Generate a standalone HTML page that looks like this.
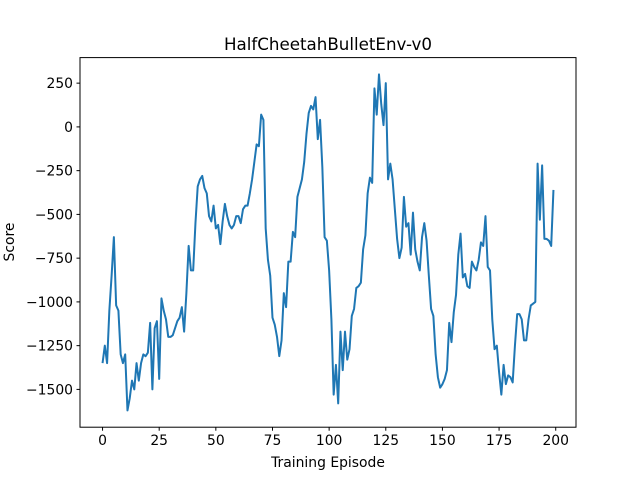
<!DOCTYPE html>
<html><head><meta charset="utf-8"><style>
html,body{margin:0;padding:0;background:#fff;}
svg{display:block;font-family:"DejaVu Sans","Liberation Sans",sans-serif;}
</style></head><body>
<svg id="chart" width="640" height="480" xmlns="http://www.w3.org/2000/svg">
<rect width="640" height="480" fill="#fff"/>
<text x="328" y="50" text-anchor="middle" font-size="16.7">HalfCheetahBulletEnv-v0</text>
<g id="xticks"></g>
<g id="yticks"></g>
<path id="line" fill="none" stroke="#1f77b4" stroke-width="2" stroke-linejoin="round"/>
<rect x="80" y="57.6" width="496" height="369.6" fill="none" stroke="#000" stroke-width="1"/>
<text x="328" y="467" text-anchor="middle" font-size="13.9">Training Episode</text>
<text transform="translate(14,242) rotate(-90)" text-anchor="middle" font-size="13.9">Score</text>
</svg>
<script>
const scores = [
-1350,-1250,-1350,-1050,-850,-630,-1020,-1050,-1300,-1350,
-1300,-1620,-1550,-1450,-1500,-1350,-1450,-1350,-1300,-1310,
-1290,-1120,-1500,-1150,-1110,-1440,-980,-1050,-1100,-1200,
-1200,-1190,-1150,-1110,-1090,-1030,-1170,-950,-680,-820,
-820,-550,-340,-300,-280,-350,-380,-510,-540,-450,
-580,-560,-670,-540,-440,-510,-560,-580,-560,-510,
-510,-550,-470,-450,-450,-380,-300,-200,-100,-110,
70,40,-580,-760,-850,-1090,-1130,-1200,-1310,-1220,
-950,-1030,-770,-770,-600,-630,-400,-350,-300,-200,
-40,80,120,100,170,-70,40,-230,-630,-650,
-820,-1100,-1530,-1360,-1580,-1170,-1390,-1170,-1330,-1270,
-1080,-1040,-920,-910,-890,-700,-620,-380,-290,-320,
220,70,300,130,10,250,-300,-210,-300,-470,
-640,-750,-690,-400,-570,-550,-730,-490,-700,-770,
-820,-630,-550,-650,-850,-1040,-1080,-1300,-1430,-1490,
-1470,-1440,-1390,-1120,-1230,-1060,-960,-730,-610,-860,
-840,-910,-920,-770,-800,-820,-760,-660,-680,-510,
-800,-820,-1100,-1270,-1250,-1400,-1530,-1360,-1470,-1420,
-1430,-1460,-1250,-1070,-1070,-1100,-1220,-1220,-1100,-1020,
-1010,-1000,-210,-530,-220,-640,-640,-650,-680,-360
];
const xTicks = [0,25,50,75,100,125,150,175,200];
const yTicks = [-1500,-1250,-1000,-750,-500,-250,0,250];
const NS="http://www.w3.org/2000/svg";
const L=80,R=576,T=57.6,B=427.2;
const xmin=-9.95,xmax=208.95;
const ymin=Math.min(...scores),ymax=Math.max(...scores),pad=(ymax-ymin)*0.05;
const y0=ymin-pad,y1=ymax+pad;
const xs=v=>L+(v-xmin)/(xmax-xmin)*(R-L);
const ys=v=>B-(v-y0)/(y1-y0)*(B-T);
const fmt=v=>v<0?"\u2212"+Math.abs(v):String(v);
const xg=document.getElementById('xticks'),yg=document.getElementById('yticks');
xTicks.forEach(t=>{
  const l=document.createElementNS(NS,'line');
  l.setAttribute('x1',xs(t));l.setAttribute('x2',xs(t));l.setAttribute('y1',B);l.setAttribute('y2',B+3.5);l.setAttribute('stroke','#000');
  
  
  xg.appendChild(l);
  const s=document.createElementNS(NS,'text');
  s.setAttribute('x',xs(t));s.setAttribute('y',B+18);s.setAttribute('text-anchor','middle');s.setAttribute('font-size','13.9');
  s.textContent=fmt(t);
  
  
  xg.appendChild(s);
});
yTicks.forEach(t=>{
  const l=document.createElementNS(NS,'line');
  l.setAttribute('x1',L-3.5);l.setAttribute('x2',L);l.setAttribute('y1',ys(t));l.setAttribute('y2',ys(t));l.setAttribute('stroke','#000');
  
  
  yg.appendChild(l);
  const s=document.createElementNS(NS,'text');
  s.setAttribute('x',L-7);s.setAttribute('y',ys(t)+5);s.setAttribute('text-anchor','end');s.setAttribute('font-size','13.9');
  s.textContent=fmt(t);
  
  
  yg.appendChild(s);
});
document.getElementById('line').setAttribute('d',scores.map((v,i)=>(i?'L':'M')+xs(i).toFixed(2)+','+ys(v).toFixed(2)).join(''));
</script>
</body></html>
